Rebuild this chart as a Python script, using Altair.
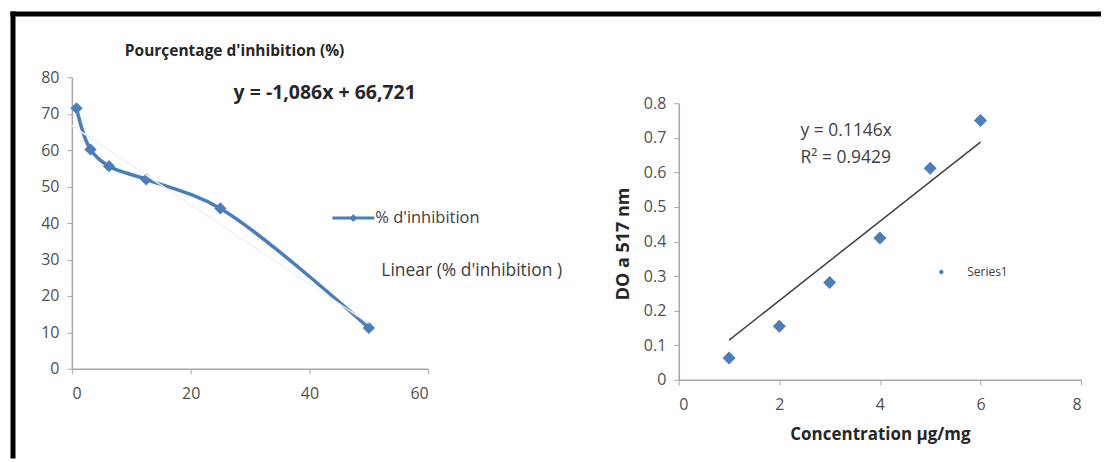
import altair as alt
import pandas as pd

# ---- data ----
inh_conc = [0.78, 3.125, 6.25, 12.5, 25, 50]
inh_pct = [71.5, 60.2, 55.6, 52.0, 44.0, 11.2]
inh_trend_x = [0, 50]
inh_slope, inh_intercept = -1.086, 66.721

std_conc = [1, 2, 3, 4, 5, 6]
std_do = [0.063, 0.155, 0.281, 0.41, 0.612, 0.75]
std_trend_x = [1, 6]
std_slope = 0.1146

left_ticks_x = [0, 20, 40, 60]
left_ticks_y = [0, 10, 20, 30, 40, 50, 60, 70, 80]
right_ticks_x = [0, 2, 4, 6, 8]
right_ticks_y = [0, 0.1, 0.2, 0.3, 0.4, 0.5, 0.6, 0.7, 0.8]

FONT = "Open Sans"
BLUE = "#4a7ebb"
LBL = "#505050"

inh_df = pd.DataFrame({"x": inh_conc, "y": inh_pct})
inh_tr = pd.DataFrame({"x": inh_trend_x, "y": [inh_slope * v + inh_intercept for v in inh_trend_x]})
std_df = pd.DataFrame({"x": std_conc, "y": std_do})
std_tr = pd.DataFrame({"x": std_trend_x, "y": [std_slope * v for v in std_trend_x]})
one = pd.DataFrame({"a": [0]})


def yaxis(values, fmt):
    return alt.Axis(values=values, format=fmt, grid=False, title=None,
                    domainColor="#a6a6a6", tickColor="#a6a6a6", tickSize=5,
                    labelFont=FONT, labelFontSize=16, labelColor=LBL,
                    labelPadding=8, domainWidth=1.5)


def xaxis(values):
    return alt.Axis(values=values, grid=False, title=None, domainColor="#a6a6a6",
                    tickColor="#a6a6a6", tickSize=5, labelFont=FONT, labelFontSize=16,
                    labelColor=LBL, labelPadding=12, domainWidth=1.5)


def txt(s, x, y, size, bold=False, align="left", angle=0, color="#262626"):
    kw = dict(font=FONT, fontSize=size, fontWeight="bold" if bold else "normal",
              align=align, baseline="middle", color=color)
    if angle:
        kw["angle"] = angle
    return alt.Chart(one).mark_text(**kw).encode(
        x=alt.value(x), y=alt.value(y), text=alt.value(s))


# ---- left chart ----
lx = alt.X("x:Q", scale=alt.Scale(domain=[0, 60], nice=False), axis=xaxis(left_ticks_x))
ly = alt.Y("y:Q", scale=alt.Scale(domain=[0, 80], nice=False), axis=yaxis(left_ticks_y, "d"))

left_line = alt.Chart(inh_df).mark_line(color=BLUE, strokeWidth=3.5, interpolate="catmull-rom").encode(x=lx, y=ly)
left_trend = alt.Chart(inh_tr).mark_line(color="#edf2f9", strokeWidth=1.5).encode(x=lx, y=ly)
left_pts = alt.Chart(inh_df).mark_point(shape="diamond", filled=True, size=150, color=BLUE, opacity=1).encode(x=lx, y=ly)

frame_v = alt.Chart(one).mark_rule(color="black", strokeWidth=5).encode(
    x=alt.value(-59), y=alt.value(-66), y2=alt.value(382))
frame_h = alt.Chart(one).mark_rule(color="black", strokeWidth=5).encode(
    x=alt.value(-61.5), x2=alt.value(1031), y=alt.value(-63.5))

leg_line = alt.Chart(one).mark_rule(color=BLUE, strokeWidth=3).encode(
    x=alt.value(261), x2=alt.value(303), y=alt.value(141))
leg_pt = alt.Chart(one).mark_point(shape="diamond", filled=True, size=60, color=BLUE, opacity=1).encode(
    x=alt.value(282), y=alt.value(141))

left = alt.layer(
    frame_v, frame_h, left_line, left_pts, left_trend, leg_line, leg_pt,
    txt("Pourçentage d'inhibition (%)", 163, -26, 15.5, bold=True, align="center"),
    txt("y = -1,086x + 66,721", 162, 16, 19.5, bold=True),
    txt("% d'inhibition", 304, 141, 16.5, color="#404040"),
    txt("Linear (% d'inhibition )", 310, 194, 17.5, color="#404040"),
).properties(width=357, height=292)

# ---- right chart ----
rx = alt.X("x:Q", scale=alt.Scale(domain=[0, 8], nice=False), axis=xaxis(right_ticks_x))
ry = alt.Y("y:Q", scale=alt.Scale(domain=[0, 0.8], nice=False, range=[303, 26]), axis=yaxis(right_ticks_y, ".1~f"))

right_trend = alt.Chart(std_tr).mark_line(color="#404040", strokeWidth=1.5).encode(x=rx, y=ry)
right_pts = alt.Chart(std_df).mark_point(shape="diamond", filled=True, size=170, color=BLUE, opacity=1).encode(x=rx, y=ry)
r_leg_pt = alt.Chart(one).mark_point(shape="diamond", filled=True, size=30, color=BLUE, opacity=1).encode(
    x=alt.value(263), y=alt.value(195))

right = alt.layer(
    right_trend, right_pts, r_leg_pt,
    txt("y = 0.1146x", 122, 54, 17.5, color="#404040"),
    txt("R² = 0.9429", 122, 81, 17.5, color="#404040"),
    txt("Series1", 289, 195, 12, color="#404040"),
    txt("DO a 517 nm", -55, 167, 18, bold=True, align="center", angle=270),
    txt("Concentration µg/mg", 202, 358, 17, bold=True, align="center"),
).properties(width=403, height=303)

chart = alt.hconcat(left, right, spacing=251, bounds="flush").configure(
    background="white", padding={"left": 0, "top": 0, "right": 0, "bottom": 0}
).configure_view(strokeWidth=0)

chart.save("out.html", embed_options={"renderer": "svg", "actions": False})
